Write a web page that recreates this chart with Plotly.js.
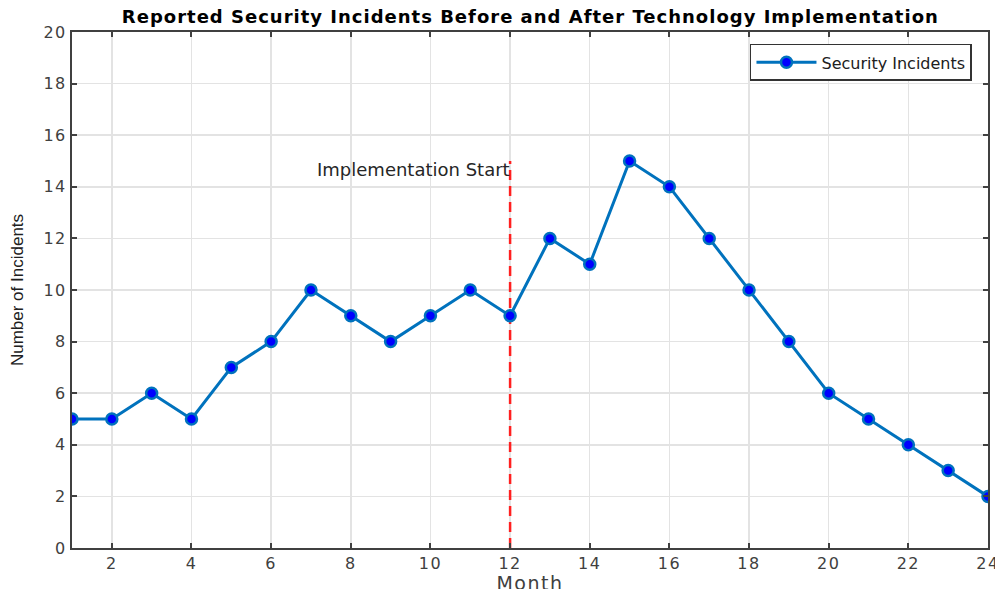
<!DOCTYPE html>
<html>
<head>
<meta charset="utf-8">
<script src="https://cdn.plot.ly/plotly-3.0.1.min.js"></script>
<style>
  html, body { margin: 0; padding: 0; background: #ffffff; }
  #chart { width: 995px; height: 589px; }
  /* wide, airy lettering for the title and axis texts */
  #chart .gtitle { letter-spacing: 1px; }
  #chart .xtick text, #chart .ytick text { letter-spacing: 1.5px; }
  #chart .xtitle { letter-spacing: 1.5px; transform: translateY(5px); }
</style>
</head>
<body>
<div id="chart"></div>
<script>
// Monthly counts of reported security incidents
const months = [1, 2, 3, 4, 5, 6, 7, 8, 9, 10, 11, 12, 13, 14, 15, 16, 17, 18, 19, 20, 21, 22, 23, 24];
const incidents = [5, 5, 6, 5, 7, 8, 10, 9, 8, 9, 10, 9, 12, 11, 15, 14, 12, 10, 8, 6, 5, 4, 3, 2];

// Month the new technology went live, and the height of the marker line
const implementationMonth = 12;
const markerLineTop = 15;
const implementationLabel = 'Implementation Start';

const xTicks = [2, 4, 6, 8, 10, 12, 14, 16, 18, 20, 22, 24];
const yTicks = [0, 2, 4, 6, 8, 10, 12, 14, 16, 18, 20];

const axisColor = '#404040';
const wideFont = 'DejaVu Sans, Verdana, sans-serif';
const plainFont = 'Liberation Sans, Arial, sans-serif';

const traces = [
  {
    x: [implementationMonth, implementationMonth],
    y: [0, markerLineTop],
    mode: 'lines',
    line: { color: '#FF2020', width: 2.5, dash: '10px,6px' },
    showlegend: false,
    hoverinfo: 'skip'
  },
  {
    x: months,
    y: incidents,
    name: 'Security Incidents',
    mode: 'lines+markers',
    line: { color: '#0072BD', width: 3 },
    marker: { color: '#0000FF', size: 11, line: { color: '#0072BD', width: 2.5 } }
  }
];

const layout = {
  width: 995,
  height: 589,
  paper_bgcolor: '#ffffff',
  plot_bgcolor: '#ffffff',
  margin: { l: 72, r: 7, t: 32, b: 41 },
  font: { family: wideFont, size: 15, color: axisColor },
  title: {
    text: '<b>Reported Security Incidents Before and After Technology Implementation</b>',
    font: { family: wideFont, size: 18, color: '#000000' },
    x: 0.533, xanchor: 'center',
    y: 0.971, yanchor: 'middle'
  },
  xaxis: {
    range: [1, 24],
    tickvals: xTicks,
    ticks: 'inside',
    ticklen: 5,
    tickwidth: 2,
    tickcolor: axisColor,
    showline: true,
    linecolor: axisColor,
    linewidth: 2,
    mirror: 'ticks',
    showgrid: true,
    gridcolor: '#E3E3E3',
    gridwidth: 1.5,
    zeroline: false,
    ticklabeloverflow: 'allow',
    tickfont: { family: wideFont, size: 16, color: axisColor },
    title: { text: 'Month', font: { family: wideFont, size: 19, color: axisColor }, standoff: 13 }
  },
  yaxis: {
    range: [0, 20],
    tickvals: yTicks,
    ticks: 'inside',
    ticklen: 5,
    tickwidth: 2,
    tickcolor: axisColor,
    showline: true,
    linecolor: axisColor,
    linewidth: 2,
    mirror: 'ticks',
    showgrid: true,
    gridcolor: '#E3E3E3',
    gridwidth: 1.5,
    zeroline: false,
    tickfont: { family: wideFont, size: 16, color: axisColor },
    title: {
      text: 'Number of Incidents',
      font: { family: plainFont, size: 17, color: '#202020' },
      standoff: 18
    }
  },
  legend: {
    x: 0.9825, xanchor: 'right',
    y: 0.977, yanchor: 'top',
    bgcolor: '#ffffff',
    bordercolor: '#333333',
    borderwidth: 1.5,
    font: { family: wideFont, size: 16, color: '#202020' },
    itemwidth: 60
  },
  annotations: [
    {
      x: implementationMonth,
      y: markerLineTop,
      xref: 'x', yref: 'y',
      text: implementationLabel,
      showarrow: false,
      xanchor: 'right',
      yanchor: 'top',
      xshift: 2,
      yshift: 4,
      font: { family: wideFont, size: 18, color: '#262626' }
    }
  ],
  showlegend: true
};

Plotly.newPlot('chart', traces, layout, { displayModeBar: false, staticPlot: true });
</script>
</body>
</html>
